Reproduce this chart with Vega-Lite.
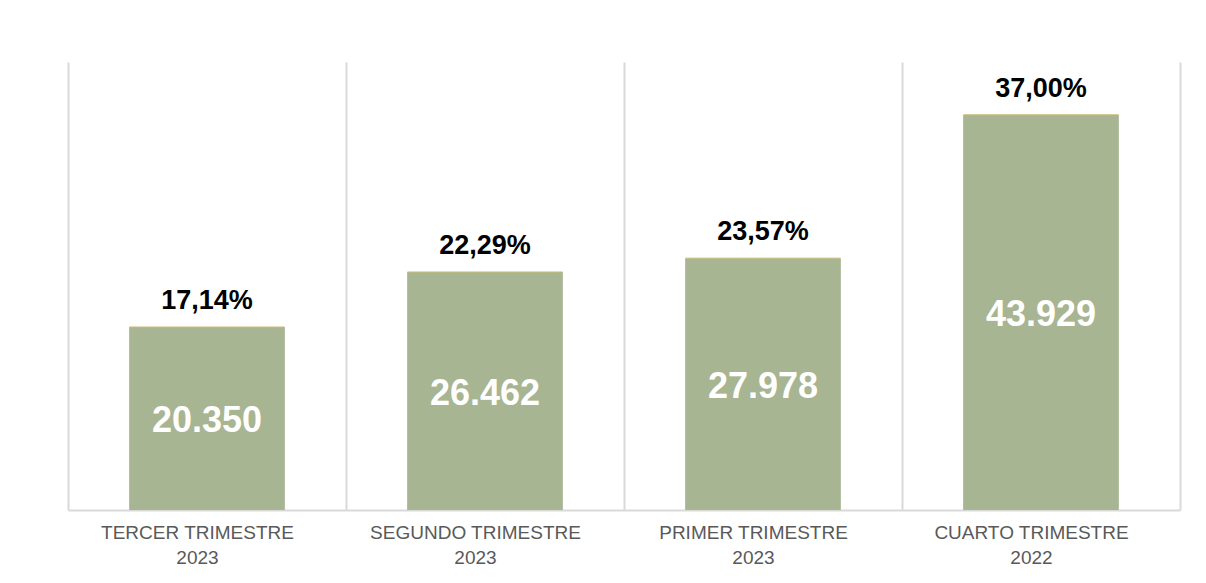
{
  "$schema": "https://vega.github.io/schema/vega-lite/v6.json",
  "width": 1112,
  "height": 448,
  "autosize": {"type": "none"},
  "padding": {"left": 68, "top": 62, "right": 26, "bottom": 73},
  "background": "white",
  "config": {
    "view": {"stroke": null},
    "font": "Liberation Sans",
    "locale": {"number": {"decimal": ",", "thousands": ".", "grouping": [3], "currency": ["$", ""]}}
  },
  "data": {
    "values": [
      {"periodo": "TERCER TRIMESTRE 2023", "valor": 20350, "pct": 0.1714},
      {"periodo": "SEGUNDO TRIMESTRE 2023", "valor": 26462, "pct": 0.2229},
      {"periodo": "PRIMER TRIMESTRE 2023", "valor": 27978, "pct": 0.2357},
      {"periodo": "CUARTO TRIMESTRE 2022", "valor": 43929, "pct": 0.37}
    ]
  },
  "encoding": {
    "x": {
      "field": "periodo",
      "type": "nominal",
      "sort": null,
      "scale": {"paddingInner": 0, "paddingOuter": 0},
      "axis": {
        "title": null,
        "tickBand": "extent",
        "grid": true,
        "gridColor": "#D9D9D9",
        "gridWidth": 2,
        "ticks": false,
        "domainColor": "#D9D9D9",
        "domainWidth": 2,
        "labelAngle": 0,
        "labelFont": "Liberation Sans",
        "labelFontSize": 19,
        "labelColor": "#595959",
        "labelPadding": 13,
        "labelOffset": -10,
        "labelLineHeight": 25,
        "labelLimit": 400,
        "labelExpr": "[substring(datum.label, 0, length(datum.label) - 5), substring(datum.label, length(datum.label) - 4)]"
      }
    }
  },
  "layer": [
    {
      "mark": {"type": "bar", "color": "#A7B593", "width": {"band": 0.56}},
      "encoding": {"y": {"field": "valor", "type": "quantitative", "scale": {"domain": [0, 49800]}, "axis": null}}
    },
    {
      "mark": {"type": "tick", "orient": "horizontal", "color": "#CDBB78", "thickness": 1.5, "size": 155},
      "encoding": {"y": {"field": "valor", "type": "quantitative", "scale": {"domain": [0, 49800]}, "axis": null}}
    },
    {
      "mark": {"type": "text", "fontSize": 27, "fontWeight": "bold", "color": "black", "baseline": "alphabetic", "dy": -18, "font": "Liberation Sans"},
      "encoding": {
        "y": {"field": "valor", "type": "quantitative", "scale": {"domain": [0, 49800]}, "axis": null},
        "text": {"field": "pct", "type": "quantitative", "format": ".2%"}
      }
    },
    {
      "mark": {"type": "text", "fontSize": 36, "fontWeight": "bold", "color": "white", "baseline": "middle", "dy": 3, "font": "Liberation Sans"},
      "encoding": {
        "y": {"field": "valor", "type": "quantitative", "scale": {"domain": [0, 99600]}, "axis": null},
        "text": {"field": "valor", "type": "quantitative", "format": ",d"}
      }
    }
  ],
  "resolve": {"scale": {"y": "independent"}}
}
